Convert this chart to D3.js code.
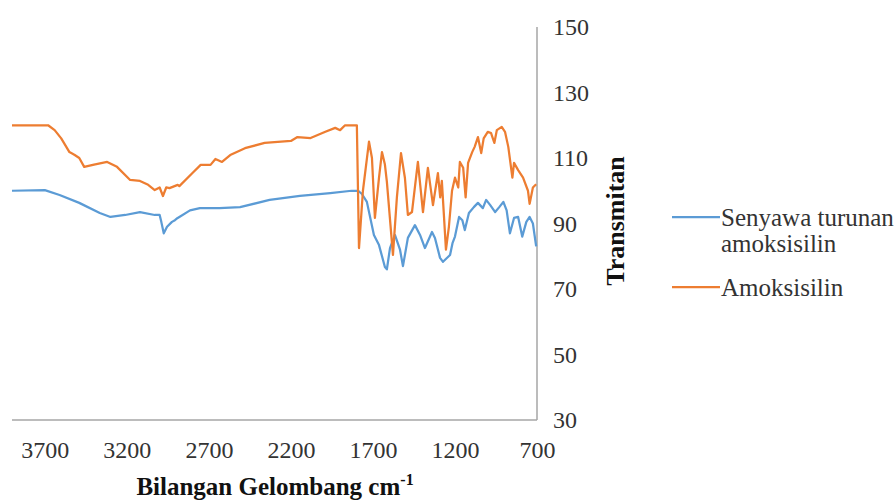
<!DOCTYPE html>
<html>
<head>
<meta charset="utf-8">
<script src="https://cdn.jsdelivr.net/npm/d3@7"></script>
<style>
  body{margin:0;background:#fff;}
  text{font-family:"Liberation Serif","Times New Roman",serif;}
</style>
</head>
<body>
<div id="chart"></div>
<script>
// data (wavenumber cm-1, transmitan)
var xTicks=[3700,3200,2700,2200,1700,1200,700];
var yTicks=[30,50,70,90,110,130,150];

var wnAmoks=[3900,3680,3640,3600,3550,3520,3490,3460,3400,3320,3260,3180,3120,3070,3030,3000,2980,2960,2940,2890,2880,2800,2750,2690,2660,2620,2570,2480,2360,2200,2160,2080,1990,1930,1900,1870,1830,1798,1785,1761,1724,1706,1688,1663,1645,1627,1615,1578,1554,1529,1505,1487,1462,1426,1395,1365,1334,1304,1290,1280,1268,1255,1237,1218,1200,1180,1170,1150,1135,1120,1095,1080,1060,1040,1025,1000,980,960,945,915,895,875,850,840,815,785,755,745,725,705];
var trAmoks=[120,120,118.5,116,111.8,111,110,107.3,108,108.8,107.3,103.3,103,101.8,100.2,101,98.4,101,100.8,101.8,101.4,105.4,107.9,107.9,109.7,108.8,110.9,113,114.6,115.2,116.4,116.1,118,119.2,118.5,120,120,120,82.5,100,115,110,91.7,104,111.8,108,102.7,80.4,98,111.5,103.9,92.6,93.5,108.8,93.5,107,95.6,105.4,98,103,93,82,89,100,104,101,108.8,107,98,108.5,111.8,113.4,116.4,111.5,116,118,117.6,114.6,118.5,119.5,118,113.4,104,108.5,106.3,104,100,96,101,102];

var wnSenyawa=[3900,3700,3610,3490,3365,3300,3210,3120,3030,3000,2990,2975,2955,2925,2907,2890,2880,2815,2755,2635,2510,2330,2145,1960,1830,1790,1767,1737,1694,1663,1627,1615,1596,1566,1535,1517,1487,1444,1413,1383,1340,1322,1291,1273,1230,1215,1200,1175,1155,1140,1115,1085,1060,1030,1010,985,955,930,905,885,865,840,815,790,765,745,725,705];
var trSenyawa=[100,100.2,98.7,96.3,93.2,92,92.6,93.5,92.6,92.6,90.5,87,89,90.5,91,91.7,92,94,94.7,94.7,95,97.2,98.4,99.3,100,100,99,96.6,86.5,83.4,76.7,76,82.5,86.5,82,77,85.6,89.5,86.5,82.5,87.4,85.6,79.5,78.3,80.4,84,86,92,91,88,93.2,95,96.3,94.7,97.2,95.6,93.5,95,96.6,94,87,91.7,92,86,90.5,92,90,83];

var colors=["#5b9bd5","#ed7d31"];

var width=894,height=501;
var plot={left:12,right:537,top:27,bottom:420};

var svg=d3.select("#chart").append("svg")
  .attr("width",width)
  .attr("height",height);

var x=d3.scaleLinear().domain([3900,700]).range([plot.left,plot.right]);
var y=d3.scaleLinear().domain([30,150]).range([plot.bottom,plot.top]);

// axis lines
svg.append("line")
  .attr("x1",plot.left).attr("x2",plot.right)
  .attr("y1",plot.bottom).attr("y2",plot.bottom)
  .attr("stroke","#a6a6a6").attr("stroke-width",1.5);
svg.append("line")
  .attr("x1",plot.right).attr("x2",plot.right)
  .attr("y1",plot.top).attr("y2",plot.bottom)
  .attr("stroke","#a6a6a6").attr("stroke-width",1.5);

// bottom tick labels
var xAxis=svg.append("g")
  .attr("transform","translate(0,"+plot.bottom+")")
  .call(d3.axisBottom(x).tickValues(xTicks).tickSize(0).tickPadding(21).tickFormat(d3.format("d")));
xAxis.select(".domain").remove();
xAxis.selectAll("text").attr("font-size",24).attr("fill","#333");

// right tick labels
var yAxis=svg.append("g")
  .attr("transform","translate("+plot.right+",0)")
  .call(d3.axisRight(y).tickValues(yTicks).tickSize(0).tickPadding(16));
yAxis.select(".domain").remove();
yAxis.selectAll("text").attr("font-size",24).attr("fill","#333");

// lines
var line=d3.line().x(function(d){return x(d[0]);}).y(function(d){return y(d[1]);});
var data=[d3.zip(wnSenyawa,trSenyawa),d3.zip(wnAmoks,trAmoks)];
data.forEach(function(d,i){
  svg.append("path").datum(d)
    .attr("d",line)
    .attr("fill","none")
    .attr("stroke",colors[i])
    .attr("stroke-width",2.25)
    .attr("stroke-linejoin","round");
});

// axis titles
var xt=svg.append("text")
  .attr("x",275).attr("y",495)
  .attr("text-anchor","middle")
  .attr("font-size",25).attr("font-weight","bold").attr("fill","#111");
xt.append("tspan").text("Bilangan Gelombang cm");
xt.append("tspan").text("-1").attr("font-size",16).attr("dy",-10);

svg.append("text")
  .attr("transform","translate(624,221) rotate(-90)")
  .attr("text-anchor","middle")
  .attr("font-size",26).attr("font-weight","bold").attr("fill","#111")
  .text("Transmitan");

// legend
var legendY=[217,287];
var legendLines=[["Senyawa turunan","amoksisilin"],["Amoksisilin"]];
legendLines.forEach(function(lines,i){
  svg.append("line")
    .attr("x1",672).attr("x2",720)
    .attr("y1",legendY[i]).attr("y2",legendY[i])
    .attr("stroke",colors[i]).attr("stroke-width",2.25);
  var t=svg.append("text")
    .attr("x",721).attr("y",legendY[i]+9)
    .attr("font-size",25).attr("fill","#333");
  lines.forEach(function(s,j){
    t.append("tspan").attr("x",721).attr("dy",j===0?0:26).text(s);
  });
});
</script>
</body>
</html>
